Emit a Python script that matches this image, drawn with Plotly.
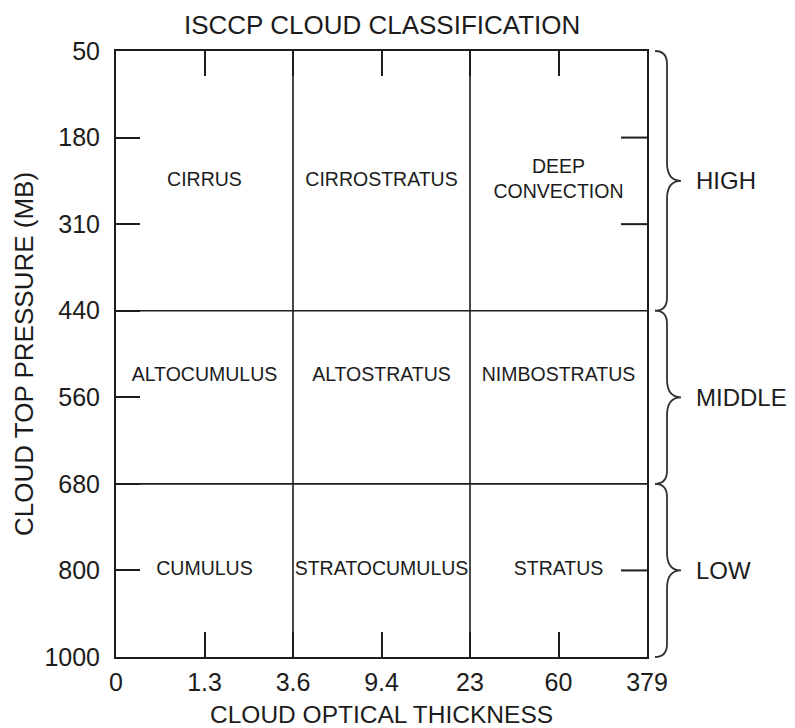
import plotly.graph_objects as go

# ---------------- data ----------------
optical_ticks = ["0", "1.3", "3.6", "9.4", "23", "60", "379"]
pressure_ticks = ["50", "180", "310", "440", "560", "680", "800", "1000"]
optical_bounds = ["0", "3.6", "23", "379"]          # cloud-type column limits
pressure_bounds = ["50", "440", "680", "1000"]      # cloud-level row limits
levels = ["HIGH", "MIDDLE", "LOW"]
cloud_types = [
    ["CIRRUS", "CIRROSTRATUS", "DEEP<br>CONVECTION"],
    ["ALTOCUMULUS", "ALTOSTRATUS", "NIMBOSTRATUS"],
    ["CUMULUS", "STRATOCUMULUS", "STRATUS"],
]
right_tick_marks = ["180", "310", "800"]

# ---------------- layout constants ----------------
OFF = 8                      # page body margin in the browser
W, H = 795 - OFF, 728 - OFF
ML, MR, MT, MB = 116 - OFF, 148, 51 - OFF, 71
PW, PH = W - ML - MR, H - MT - MB
FONT = "Liberation Sans, Arial, sans-serif"
INK = "#1c1c1c"

xi = {v: i for i, v in enumerate(optical_ticks)}
yi = {v: i for i, v in enumerate(pressure_ticks)}
nx, ny = len(optical_ticks) - 1, len(pressure_ticks) - 1

row_label_y = [1.5, 3.75, 6.0]

lx, ly, lt = [], [], []
for r, row in enumerate(cloud_types):
    for c, name in enumerate(row):
        x0 = xi[optical_bounds[c]]
        x1 = xi[optical_bounds[c + 1]]
        lx.append((x0 + x1) / 2)
        ly.append(row_label_y[r])
        lt.append(name)

fig = go.Figure()
fig.add_trace(go.Scatter(
    x=lx, y=ly, text=lt, mode="text", textposition="middle center",
    textfont=dict(family=FONT, size=19.5, color=INK), hoverinfo="skip",
    showlegend=False,
))

shapes = []
# inner boundaries
for b in optical_bounds[1:-1]:
    shapes.append(dict(type="line", xref="x", yref="y", x0=xi[b], x1=xi[b], y0=0, y1=ny,
                       line=dict(color=INK, width=1.6)))
for b in pressure_bounds[1:-1]:
    shapes.append(dict(type="line", xref="x", yref="y", x0=0, x1=nx, y0=yi[b], y1=yi[b],
                       line=dict(color=INK, width=1.6)))
# right-side inner tick marks
for v in right_tick_marks:
    shapes.append(dict(type="line", xref="x", yref="y", xsizemode="pixel", xanchor=nx,
                       x0=-26, x1=0, y0=yi[v], y1=yi[v],
                       line=dict(color=INK, width=2)))

# braces (page pixel -> paper)
def P(px, py):
    a = (px - OFF - ML) / PW
    b = (MT + PH - (py - OFF)) / PH
    return f"{a:.5f},{b:.5f}"

right = 116 + PW             # page px of plot right edge
top = 51
x0b, xvb, xtb = right + 8, right + 20, right + 34
r_end, r_mid = 13, 18
for i, lev in enumerate(levels):
    yt = top + yi[pressure_bounds[i]] * PH / ny
    yb = top + yi[pressure_bounds[i + 1]] * PH / ny
    ym = (yt + yb) / 2
    path = (f"M {P(x0b, yt)} Q {P(xvb, yt)} {P(xvb, yt + r_end)} "
            f"L {P(xvb, ym - r_mid)} Q {P(xvb, ym)} {P(xtb, ym)} "
            f"Q {P(xvb, ym)} {P(xvb, ym + r_mid)} "
            f"L {P(xvb, yb - r_end)} Q {P(xvb, yb)} {P(x0b, yb)}")
    shapes.append(dict(type="path", xref="paper", yref="paper", path=path,
                       line=dict(color="#333", width=1.8)))

annotations = []
for i, lev in enumerate(levels):
    yc = (yi[pressure_bounds[i]] + yi[pressure_bounds[i + 1]]) / 2
    annotations.append(dict(text=lev, xref="paper", yref="y", x=(694 - 116) / PW, y=yc,
                            xanchor="left", yanchor="middle", showarrow=False,
                            font=dict(family=FONT, size=24, color=INK)))

annotations.append(dict(text="ISCCP CLOUD CLASSIFICATION", xref="paper", yref="paper",
                        x=0.5, y=1, yshift=26, xanchor="center", yanchor="middle",
                        showarrow=False, font=dict(family=FONT, size=26, color=INK)))
annotations.append(dict(text="CLOUD OPTICAL THICKNESS", xref="paper", yref="paper",
                        x=0.5, y=0, yshift=-57, xanchor="center", yanchor="middle",
                        showarrow=False, font=dict(family=FONT, size=24.5, color=INK)))
annotations.append(dict(text="CLOUD TOP PRESSURE (MB)", xref="paper", yref="paper",
                        x=0, y=0.5, xshift=-92, xanchor="center", yanchor="middle",
                        textangle=-90, showarrow=False,
                        font=dict(family=FONT, size=26, color=INK)))

fig.update_layout(
    width=W, height=H,
    margin=dict(l=ML, r=MR, t=MT, b=MB, pad=0),
    paper_bgcolor="white", plot_bgcolor="white",
    showlegend=False,
    shapes=shapes, annotations=annotations,
    xaxis=dict(range=[0, nx], tickvals=list(range(len(optical_ticks))),
               ticktext=optical_ticks, showgrid=False, zeroline=False,
               showline=True, mirror="allticks", linecolor=INK, linewidth=2,
               ticks="inside", ticklen=25, tickwidth=2, tickcolor=INK,
               tickfont=dict(family=FONT, size=25, color=INK),
               ticklabelstandoff=2, automargin=False, fixedrange=True),
    yaxis=dict(range=[ny, 0], tickvals=list(range(len(pressure_ticks))),
               ticktext=pressure_ticks, showgrid=False, zeroline=False,
               showline=True, mirror=True, linecolor=INK, linewidth=2,
               ticks="inside", ticklen=24, tickwidth=2, tickcolor=INK,
               tickfont=dict(family=FONT, size=25, color=INK),
               ticklabelstandoff=9, automargin=False, fixedrange=True),
)

fig.write_html("out.html")
